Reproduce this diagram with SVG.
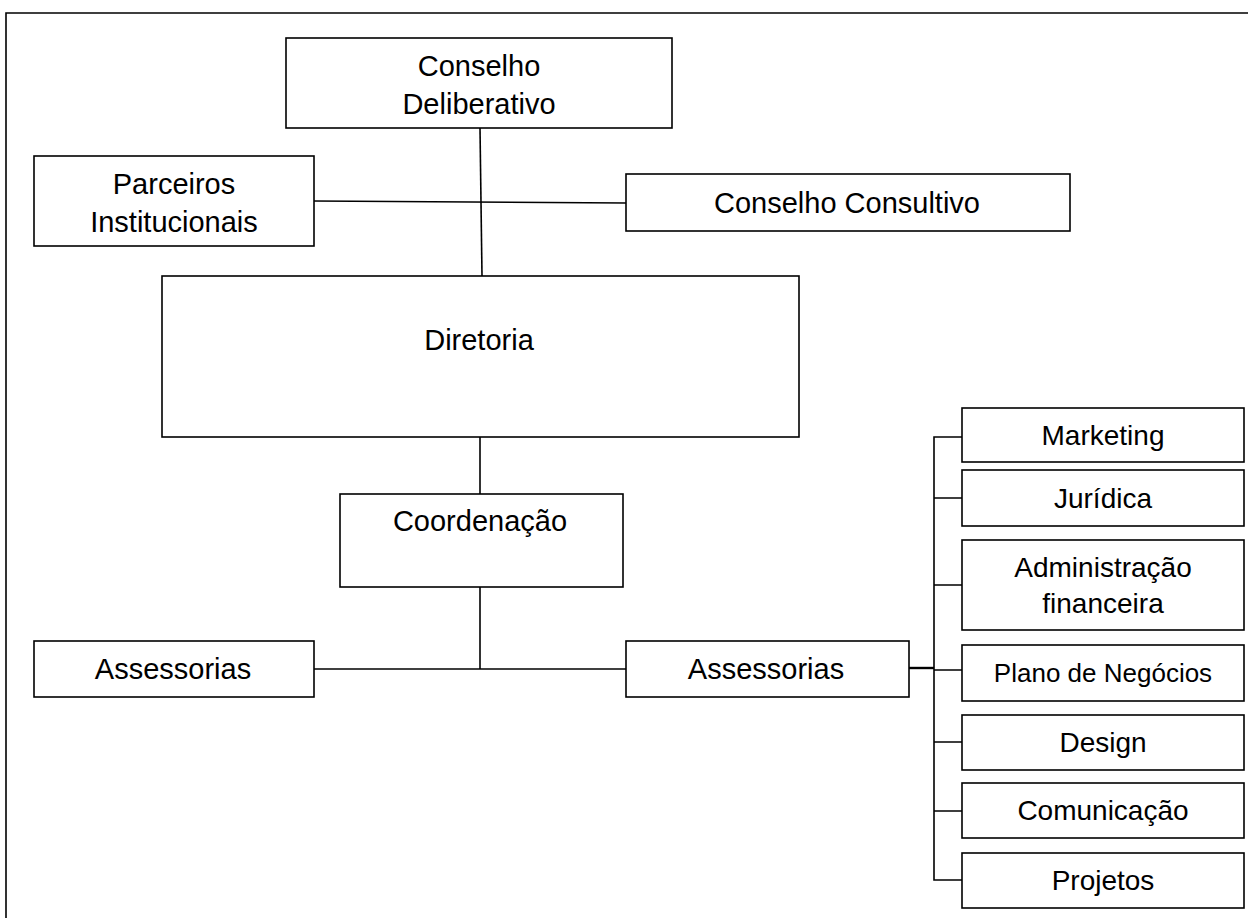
<svg xmlns="http://www.w3.org/2000/svg" width="1248" height="918" viewBox="0 0 1248 918">
<style>
.box{fill:#fff;stroke:#000;stroke-width:1.6}
.ln{fill:none;stroke:#000;stroke-width:1.6}
text{font-family:"Liberation Sans",Arial,sans-serif;font-size:29px;fill:#000;text-anchor:middle}
.r{font-size:28px}
.sm{font-size:26px}
</style>
<rect width="1248" height="918" fill="#fff"/>
<path class="ln" d="M6,918 V13 H1248"/>
<g id="connectors">
<path class="ln" d="M480,128 L482,276"/>
<path class="ln" d="M314,201 L626,203"/>
<path class="ln" d="M480,437 V494"/>
<path class="ln" d="M480,587 V669"/>
<path class="ln" d="M314,669 H626"/>
<path class="ln" d="M909,668 H934" style="stroke-width:2.4"/>
<path class="ln" d="M962,437 H934 V880 H962"/>
<path class="ln" d="M934,498 H962 M934,585 H962 M934,670 H962 M934,742 H962 M934,811 H962"/>
</g>
<g id="conselho-deliberativo"><rect class="box" x="286" y="38" width="386" height="90"/><text x="479" y="76">Conselho</text><text x="479" y="114">Deliberativo</text></g>
<g id="parceiros"><rect class="box" x="34" y="156" width="280" height="90"/><text x="174" y="194">Parceiros</text><text x="174" y="232">Institucionais</text></g>
<g id="conselho-consultivo"><rect class="box" x="626" y="174" width="444" height="57"/><text x="847" y="213">Conselho Consultivo</text></g>
<g id="diretoria"><rect class="box" x="162" y="276" width="637" height="161"/><text x="479" y="350">Diretoria</text></g>
<g id="coordenacao"><rect class="box" x="340" y="494" width="283" height="93"/><text x="480" y="531">Coordenação</text></g>
<g id="assessorias-esq"><rect class="box" x="34" y="641" width="280" height="56"/><text x="173" y="679">Assessorias</text></g>
<g id="assessorias-dir"><rect class="box" x="626" y="641" width="283" height="56"/><text x="766" y="679">Assessorias</text></g>
<g id="marketing"><rect class="box" x="962" y="408" width="282" height="54"/><text class="r" x="1103" y="445">Marketing</text></g>
<g id="juridica"><rect class="box" x="962" y="470" width="282" height="56"/><text class="r" x="1103" y="508">Jurídica</text></g>
<g id="adm-financeira"><rect class="box" x="962" y="540" width="282" height="90"/><text class="r" x="1103" y="577">Administração</text><text class="r" x="1103" y="613">financeira</text></g>
<g id="plano-negocios"><rect class="box" x="962" y="645" width="282" height="56"/><text class="sm" x="1103" y="682">Plano de Negócios</text></g>
<g id="design"><rect class="box" x="962" y="715" width="282" height="55"/><text class="r" x="1103" y="752">Design</text></g>
<g id="comunicacao"><rect class="box" x="962" y="783" width="282" height="55"/><text class="r" x="1103" y="820">Comunicação</text></g>
<g id="projetos"><rect class="box" x="962" y="853" width="282" height="55"/><text class="r" x="1103" y="890">Projetos</text></g>
</svg>
